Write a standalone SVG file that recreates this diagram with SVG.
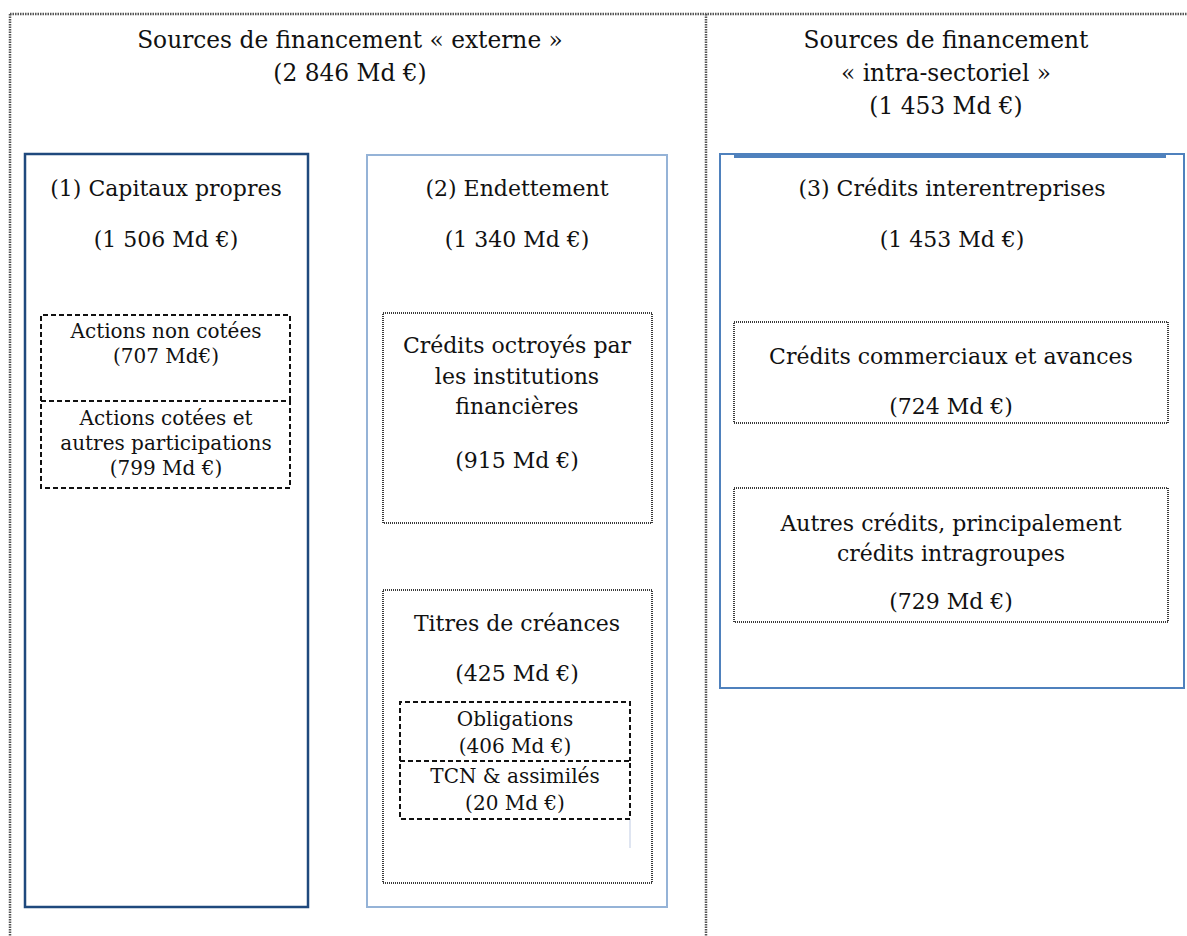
<svg xmlns="http://www.w3.org/2000/svg" width="1187" height="936" viewBox="0 0 1187 936">
<style>
text{font-family:"DejaVu Serif","Liberation Serif",serif;fill:#111;text-anchor:middle}
.h{font-size:23.3px}
.m{font-size:22px}
.s{font-size:20px}
.frame{fill:none;stroke:#555;stroke-width:2.5;stroke-dasharray:1.5 1}
.dot{fill:none;stroke:#3a3a3a;stroke-width:2;stroke-dasharray:1 1}
.dash{fill:none;stroke:#111;stroke-width:2;stroke-dasharray:5 3}
</style>
<rect width="1187" height="936" fill="#fff"/>
<g id="frame">
<line class="frame" x1="10" y1="14" x2="1187" y2="14"/>
<line class="frame" x1="10" y1="14" x2="10" y2="936"/>
<line class="frame" x1="706" y1="14" x2="706" y2="936"/>
</g>
<g id="title-externe">
<text class="h" x="350" y="48">Sources de financement « externe »</text>
<text class="h" x="350" y="81">(2 846 Md €)</text>
</g>
<g id="title-intra">
<text class="h" x="946" y="48">Sources de financement</text>
<text class="h" x="946" y="81">« intra-sectoriel »</text>
<text class="h" x="946" y="114">(1 453 Md €)</text>
</g>
<g id="capitaux-propres">
<rect x="25" y="154" width="283" height="753" fill="none" stroke="#1f497d" stroke-width="2.5"/>
<text class="m" x="166" y="196">(1) Capitaux propres</text>
<text class="m" x="166" y="247">(1 506 Md €)</text>
</g>
<g id="actions-non-cotees">
<path class="dash" d="M41 401 V315 H290 V401"/>
<text class="s" x="166" y="338">Actions non cotées</text>
<text class="s" x="166" y="363">(707 Md€)</text>
</g>
<g id="actions-cotees">
<rect class="dash" x="41" y="401" width="249" height="87"/>
<text class="s" x="166" y="425">Actions cotées et</text>
<text class="s" x="166" y="450">autres participations</text>
<text class="s" x="166" y="475">(799 Md €)</text>
</g>
<g id="endettement">
<rect x="367" y="155" width="300" height="752" fill="none" stroke="#95b3d7" stroke-width="2"/>
<text class="m" x="517" y="196">(2) Endettement</text>
<text class="m" x="517" y="247">(1 340 Md €)</text>
</g>
<g id="credits-institutions">
<rect class="dot" x="383" y="313" width="269" height="210"/>
<text class="m" x="517" y="353">Crédits octroyés par</text>
<text class="m" x="517" y="384">les institutions</text>
<text class="m" x="517" y="414">financières</text>
<text class="m" x="517" y="468">(915 Md €)</text>
</g>
<g id="titres-creances">
<rect class="dot" x="383" y="590" width="269" height="293"/>
<text class="m" x="517" y="631">Titres de créances</text>
<text class="m" x="517" y="681">(425 Md €)</text>
<line x1="630" y1="819" x2="630" y2="848" stroke="#d5dcec" stroke-width="1.5"/>
</g>
<g id="obligations">
<path class="dash" d="M400 761 V702 H630 V761"/>
<text class="s" x="515" y="726">Obligations</text>
<text class="s" x="515" y="753">(406 Md €)</text>
</g>
<g id="tcn">
<rect class="dash" x="400" y="761" width="230" height="58"/>
<text class="s" x="515" y="783">TCN &amp; assimilés</text>
<text class="s" x="515" y="810">(20 Md €)</text>
</g>
<g id="credits-interentreprises">
<rect x="720" y="154" width="464" height="534" fill="none" stroke="#4f81bd" stroke-width="2"/>
<line x1="734" y1="156" x2="1166" y2="156" stroke="#4f81bd" stroke-width="4"/>
<text class="m" x="952" y="196">(3) Crédits interentreprises</text>
<text class="m" x="952" y="247">(1 453 Md €)</text>
</g>
<g id="credits-commerciaux">
<rect class="dot" x="734" y="322" width="434" height="101"/>
<text class="m" x="951" y="364">Crédits commerciaux et avances</text>
<text class="m" x="951" y="414">(724 Md €)</text>
</g>
<g id="autres-credits">
<rect class="dot" x="734" y="488" width="434" height="134"/>
<text class="m" x="951" y="531">Autres crédits, principalement</text>
<text class="m" x="951" y="561">crédits intragroupes</text>
<text class="m" x="951" y="609">(729 Md €)</text>
</g>
</svg>
